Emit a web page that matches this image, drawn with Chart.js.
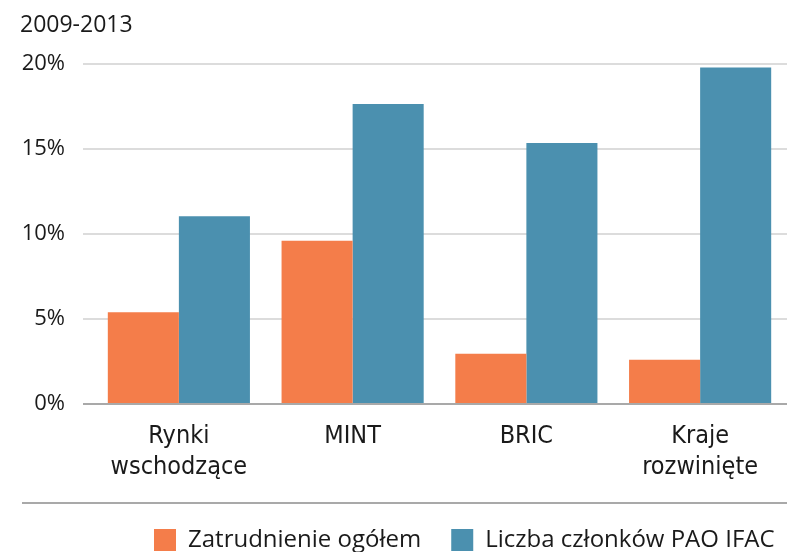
<!DOCTYPE html>
<html lang="pl">
<head>
<meta charset="UTF-8">
<title>Zatrudnienie i liczba członków PAO IFAC 2009-2013</title>
<script src="https://cdn.jsdelivr.net/npm/chart.js"></script>
<style>
    html, body { margin: 0; padding: 0; background: #fff; overflow: hidden; }
    .chart-box { width: 787px; height: 552px; position: relative; }
</style>
</head>
<body>
<div class="chart-box"><canvas id="growthChart"></canvas></div>
<script>
    const chartTitle = '2009-2013';
    const categories = [['Rynki', 'wschodzące'], 'MINT', 'BRIC', ['Kraje', 'rozwinięte']];
    const seriesNames = ['Zatrudnienie ogółem', 'Liczba członków PAO IFAC'];
    const employment = [5.4, 9.6, 2.95, 2.6];
    const members = [11.05, 17.65, 15.35, 19.8];
    const yTicks = [0, 5, 10, 15, 20];

    const ORANGE = '#f47d4a', BLUE = '#4b90af';
    const sansFont = "'Open Sans', 'Noto Sans', sans-serif";
    const narrowFont = "'Liberation Sans Narrow', 'DejaVu Sans Condensed', 'Roboto', sans-serif";

    // title top-left, separator line and legend at the bottom (legend cut by the window edge like the original)
    const decorations = {
        id: 'decorations',
        afterDraw(chart) {
            const ctx = chart.ctx;
            ctx.save();
            ctx.fillStyle = '#1a1a1a';
            ctx.font = '23px ' + sansFont;
            ctx.textBaseline = 'alphabetic';
            ctx.fillText(chartTitle, 20, 32);

            ctx.fillStyle = '#a9a9a9';
            ctx.fillRect(22, 502, chart.width - 22, 2);

            ctx.font = '24px ' + sansFont;
            let x = 154;
            chart.data.datasets.forEach(ds => {
                ctx.fillStyle = ds.backgroundColor;
                ctx.fillRect(x, 529, 22, 22);
                ctx.fillStyle = '#1a1a1a';
                ctx.fillText(ds.label, x + 34, 547);
                x += 34 + ctx.measureText(ds.label).width + 30;
            });
            ctx.restore();
        }
    };

    new Chart(document.getElementById('growthChart').getContext('2d'), {
        type: 'bar',
        data: {
            labels: categories,
            datasets: [
                { label: seriesNames[0], data: employment, backgroundColor: ORANGE },
                { label: seriesNames[1], data: members, backgroundColor: BLUE }
            ]
        },
        options: {
            responsive: true,
            maintainAspectRatio: false,
            animation: false,
            layout: { padding: { top: 64, left: 20, right: 0, bottom: 48 } },
            datasets: { bar: { barPercentage: 1.0, categoryPercentage: 0.818, borderWidth: 0 } },
            scales: {
                x: {
                    grid: { display: false, drawTicks: false },
                    border: { display: false },
                    ticks: { color: '#1a1a1a', padding: 17, font: { family: narrowFont, size: 25, lineHeight: 1.24 } },
                    afterFit: scale => { scale.height = 100; }
                },
                y: {
                    min: 0,
                    max: 20,
                    afterBuildTicks: scale => { scale.ticks = yTicks.map(v => ({ value: v })); },
                    grid: {
                        lineWidth: 2,
                        tickLength: 9,
                        color: c => c.tick && c.tick.value === 0 ? '#a9a9a9' : '#dcdcdc'
                    },
                    border: { display: false },
                    ticks: {
                        color: '#1a1a1a',
                        padding: 18,
                        font: { family: sansFont, size: 22 },
                        callback: v => v + '%'
                    },
                    afterFit: scale => { scale.width = 72; }
                }
            },
            plugins: {
                legend: { display: false },
                tooltip: { enabled: false },
                title: { display: false }
            }
        },
        plugins: [decorations]
    });
</script>
</body>
</html>
